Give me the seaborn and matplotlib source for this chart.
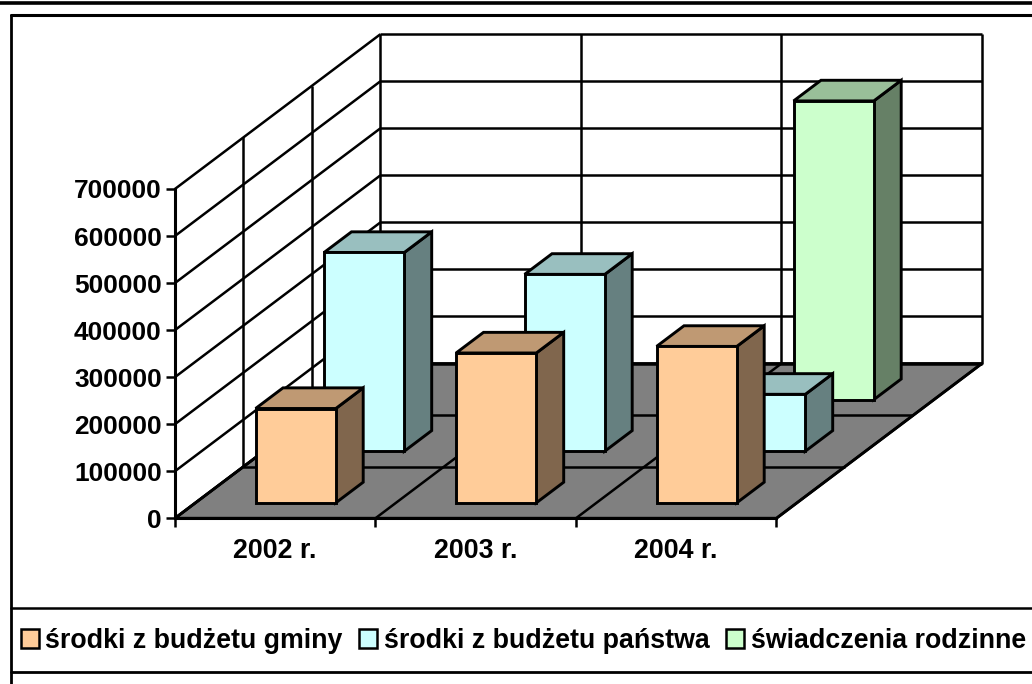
import numpy as np
import matplotlib
matplotlib.use("Agg")
import matplotlib.pyplot as plt
from matplotlib.colors import to_rgb
from matplotlib.lines import Line2D
from matplotlib.patches import Patch
import seaborn as sns

# values
years = ["2002 r.", "2003 r.", "2004 r."]
series_names = ["środki z budżetu gminy", "środki z budżetu państwa", "świadczenia rodzinne"]
gmina = [200500, 318500, 332500]
panstwo = [422500, 376000, 121000]
rodzinne = [np.nan, np.nan, 635000]
colors = ["#FFCC99", "#CCFFFF", "#CCFFCC"]
y_ticks = [0, 100000, 200000, 300000, 400000, 500000, 600000, 700000]

W, H = 1032, 684
LW = 1.8
FS = 19.3
FS_Y = 18.9

# how far the whole floor runs back, in data units
DEPTH_X = 205.5 / 200.5
DEPTH_Y = 329000


def shift(x, y, d):
    # oblique projection: d=0 is the front plane, d=1 the back wall
    return x + d * DEPTH_X, y + d * DEPTH_Y


def shade(color, k):
    return tuple(c * k for c in to_rgb(color))


sns.set_style("white")
plt.rcParams['font.family'] = ['Liberation Sans', 'DejaVu Sans']
plt.rcParams['font.weight'] = 'bold'

fig = plt.figure(figsize=(W / 100, H / 100), dpi=100)
ax = fig.add_axes([174.9 / W, (H - 518.3) / H, 601.5 / W, 329.3 / H])
ax.set_xlim(0, len(years))
ax.set_ylim(0, y_ticks[-1])
ax.patch.set_alpha(0)


def poly(points, color, z):
    xs, ys = zip(*points)
    ax.fill(xs, ys, facecolor=color, edgecolor="black", lw=LW + 0.3, clip_on=False, zorder=z, joinstyle="miter")


def line(p0, p1, z=1, lw=LW):
    ax.plot([p0[0], p1[0]], [p0[1], p1[1]], color="black", lw=lw, clip_on=False, zorder=z, solid_capstyle="butt")


# floor
n = len(years)
poly([shift(0, 0, 0), shift(n, 0, 0), shift(n, 0, 1), shift(0, 0, 1)], "#808080", 1)
for c in range(n + 1):
    line(shift(c, 0, 0), shift(c, 0, 1), 1.5)
for s in range(1, 4):
    line(shift(0, 0, s / 3), shift(n, 0, s / 3), 1.5)

# walls and their gridlines
for v in y_ticks:
    line(shift(0, v, 0), shift(0, v, 1))
    if v > 0:
        line(shift(0, v, 1), shift(n, v, 1))
for s in range(1, 4):
    line(shift(0, 0, s / 3), shift(0, y_ticks[-1], s / 3))
for c in range(1, n + 1):
    line(shift(c, 0, 1), shift(c, y_ticks[-1], 1))

# bars, back row first so the front ones cover them
rows = [gmina, panstwo, rodzinne]
z = 3
for s in [2, 1, 0]:
    for c, v in enumerate(rows[s]):
        if np.isnan(v):
            continue
        x0, x1 = c + 0.3, c + 0.7
        d0, d1 = (s + 0.3) / 3, (s + 0.7) / 3
        col = colors[s]
        poly([shift(x1, 0, d0), shift(x1, 0, d1), shift(x1, v, d1), shift(x1, v, d0)], shade(col, 0.5), z)
        poly([shift(x0, v, d0), shift(x1, v, d0), shift(x1, v, d1), shift(x0, v, d1)], shade(col, 0.75), z)
        poly([shift(x0, 0, d0), shift(x1, 0, d0), shift(x1, v, d0), shift(x0, v, d0)], col, z)
        z += 1

# axes
sns.despine(ax=ax, top=True, right=True)
for side in ["left", "bottom"]:
    ax.spines[side].set_linewidth(2.2)
    ax.spines[side].set_color("black")
    ax.spines[side].set_zorder(2)
ax.set_yticks(y_ticks)
ax.set_yticklabels([str(v) for v in y_ticks], fontsize=FS_Y, fontweight="bold")
ax.set_xticks(range(n + 1))
ax.set_xticklabels([])
ax.set_xticks([c + 0.5 for c in range(n)], minor=True)
ax.set_xticklabels(years, minor=True, fontsize=FS, fontweight="bold")
ax.tick_params(axis="y", which="major", left=True, length=6.5, width=1.8, pad=3, color="black", labelcolor="black")
ax.tick_params(axis="x", which="major", bottom=True, length=6.5, width=1.8, color="black")
ax.tick_params(axis="x", which="minor", bottom=False, length=0, pad=14, labelcolor="black")

# frame lines around chart and legend
frame = [
    ((0, 3), (W, 3), 2.6),
    ((10.5, 14.5), (W, 14.5), 2.2),
    ((10.5, 14.5), (10.5, H), 2.0),
    ((10.5, 607.5), (W, 607.5), 1.8),
    ((10.5, 671.5), (W, 671.5), 2.0),
]
for p0, p1, lw in frame:
    fig.add_artist(Line2D([p0[0] / W, p1[0] / W], [1 - p0[1] / H, 1 - p1[1] / H], color="black", lw=lw))

# legend
handles = [Patch(facecolor=c, edgecolor="black", lw=1.8, label=name) for c, name in zip(colors, series_names)]
fig.legend(handles=handles, ncol=3, loc="center left", bbox_to_anchor=(21 / W, 1 - 641 / H), frameon=False,
           borderaxespad=0, borderpad=0, handlelength=0.67, handleheight=0.67,
           handletextpad=0.24, columnspacing=0.62, labelcolor="black", prop={"weight": "bold", "size": FS})

fig.savefig("out.png", dpi=100)
